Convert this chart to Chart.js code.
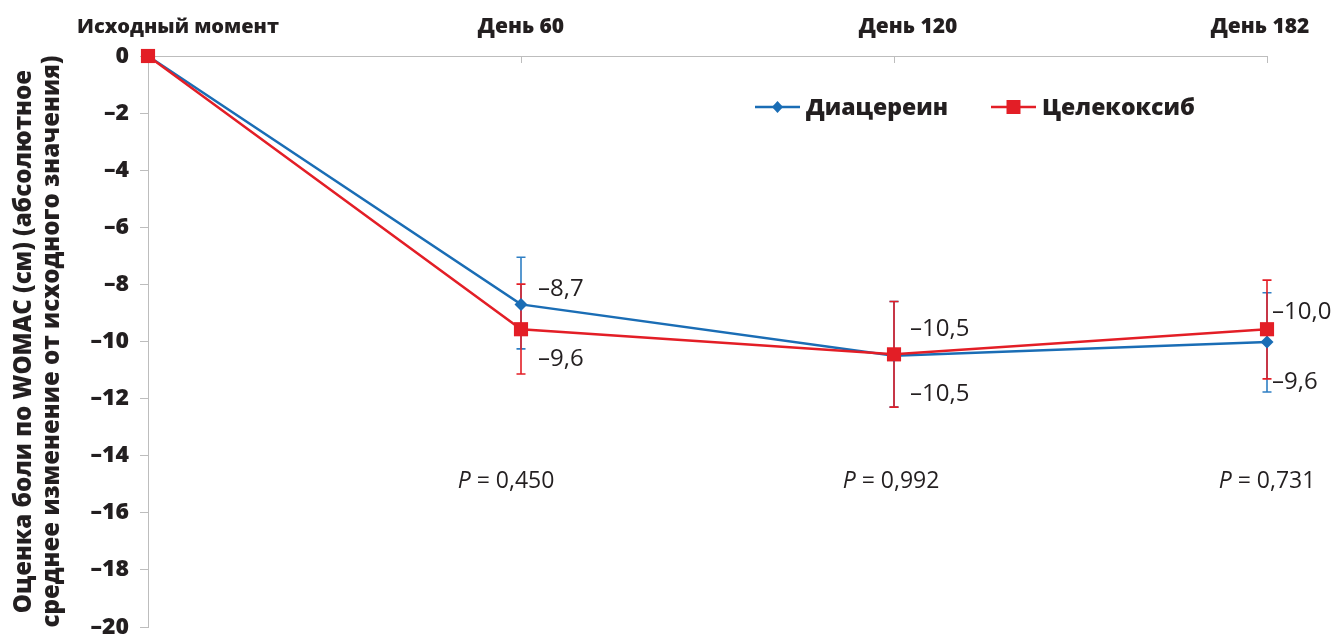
<!DOCTYPE html>
<html>
<head>
<meta charset="utf-8">
<script src="https://cdn.jsdelivr.net/npm/chart.js@4.4.1/dist/chart.umd.min.js"></script>
<style>
  html, body { margin: 0; padding: 0; background: #ffffff; }
  #wrap { width: 1333px; height: 635px; }
</style>
</head>
<body>
<div id="wrap"><canvas id="c" width="1333" height="635"></canvas></div>
<script>
// ---- data ----
const categories = ['Исходный момент', 'День 60', 'День 120', 'День 182'];
const diacerein = [0, -8.7, -10.5, -10.02];
const celecoxib = [0, -9.57, -10.45, -9.57];
const diaceriinErrLow  = [null, -10.26, -12.3, -11.77];
const diaceriinErrHigh = [null, -7.05, -8.6, -8.29];
const celecoxibErrLow  = [null, -11.14, -12.3, -11.31];
const celecoxibErrHigh = [null, -7.99, -8.6, -7.85];
const upperLabels = [null, '–8,7', '–10,5', '–10,0'];
const lowerLabels = [null, '–9,6', '–10,5', '–9,6'];
const pValues = [null, '0,450', '0,992', '0,731'];
const seriesNames = ['Диацереин', 'Целекоксиб'];
const yMin = -20, yMax = 0, yStep = 2;
const yTitle = ['Оценка боли по WOMAC (см) (абсолютное', 'среднее изменение от исходного значения)'];

const BLUE = '#1a6db5';
const RED = '#e31e26';
const TEXT = '#231f20';
const AXIS = '#bdbdbd';
const FONT = '"Open Sans", "Noto Sans", sans-serif';

function fmt(v) { return v < 0 ? '–' + Math.abs(v) : String(v); }

const errorBars = {
  id: 'errorBars',
  beforeDatasetsDraw(chart) {
    const {ctx, scales: {x, y}} = chart;
    const sets = [
      {lo: diaceriinErrLow, hi: diaceriinErrHigh, color: '#2f7fc4'},
      {lo: celecoxibErrLow, hi: celecoxibErrHigh, color: RED}
    ];
    ctx.save();
    ctx.lineWidth = 1.6;
    sets.forEach(s => {
      ctx.strokeStyle = s.color;
      s.lo.forEach((lo, i) => {
        if (lo === null) return;
        const px = x.getPixelForValue(i);
        const y1 = y.getPixelForValue(lo), y2 = y.getPixelForValue(s.hi[i]);
        ctx.beginPath();
        ctx.moveTo(px, y1); ctx.lineTo(px, y2);
        ctx.moveTo(px - 4.5, y1); ctx.lineTo(px + 4.5, y1);
        ctx.moveTo(px - 4.5, y2); ctx.lineTo(px + 4.5, y2);
        ctx.stroke();
      });
    });
    ctx.restore();
  }
};

const annotations = {
  id: 'annotations',
  afterDraw(chart) {
    const {ctx, scales: {x, y}, chartArea} = chart;
    ctx.save();
    // top category labels
    const topShift = [30, 0, 14, -7];
    ctx.fillStyle = TEXT;
    ctx.textAlign = 'center';
    ctx.textBaseline = 'alphabetic';
    categories.forEach((c, i) => {
      ctx.font = (i === 0 ? '800 20px ' : '800 21px ') + FONT;
      ctx.fillText(c, x.getPixelForValue(i) + topShift[i], 33);
    });
    // small downward ticks on top axis
    ctx.strokeStyle = AXIS;
    ctx.lineWidth = 1;
    categories.forEach((c, i) => {
      if (i === 0) return;
      const px = Math.round(x.getPixelForValue(i)) + 0.5;
      ctx.beginPath();
      ctx.moveTo(px, chartArea.top); ctx.lineTo(px, chartArea.top + 7);
      ctx.stroke();
    });
    // value labels
    const xOff = [0, 17, 16, 5];
    const upOff = [0, -15, -25, -17];
    const lowOff = [0, 30, 38, 40];
    ctx.font = '24px ' + FONT;
    ctx.textAlign = 'left';
    ctx.textBaseline = 'middle';
    for (let i = 1; i < categories.length; i++) {
      const px = x.getPixelForValue(i);
      const pa = y.getPixelForValue(diacerein[i]);
      const pb = y.getPixelForValue(celecoxib[i]);
      const top = Math.min(pa, pb), bot = Math.max(pa, pb);
      ctx.fillText(upperLabels[i], px + xOff[i], top + upOff[i]);
      ctx.fillText(lowerLabels[i], px + xOff[i], bot + lowOff[i]);
    }
    // P values
    const pShift = [0, -15, -3, 0];
    const py = y.getPixelForValue(-14.9);
    for (let i = 1; i < categories.length; i++) {
      if (!pValues[i]) continue;
      ctx.font = 'italic 23px ' + FONT;
      const wP = ctx.measureText('P').width;
      ctx.font = '23px ' + FONT;
      const rest = ' = ' + pValues[i];
      const wR = ctx.measureText(rest).width;
      const cx = x.getPixelForValue(i) + pShift[i];
      const start = cx - (wP + wR) / 2;
      ctx.textAlign = 'left';
      ctx.font = 'italic 23px ' + FONT;
      ctx.fillText('P', start, py);
      ctx.font = '23px ' + FONT;
      ctx.fillText(rest, start + wP, py);
    }
    // legend
    const leg = [
      {x: 755, color: BLUE, style: 'diamond', name: seriesNames[0]},
      {x: 991, color: RED, style: 'square', name: seriesNames[1]}
    ];
    const ly = 107;
    ctx.font = '800 23px ' + FONT;
    ctx.textBaseline = 'middle';
    leg.forEach(l => {
      ctx.strokeStyle = l.color;
      ctx.lineWidth = 2.5;
      ctx.beginPath();
      ctx.moveTo(l.x, ly); ctx.lineTo(l.x + 45, ly);
      ctx.stroke();
      ctx.fillStyle = l.color;
      const cx = l.x + 22.5;
      ctx.beginPath();
      if (l.style === 'diamond') {
        ctx.moveTo(cx, ly - 6); ctx.lineTo(cx + 5.5, ly); ctx.lineTo(cx, ly + 6); ctx.lineTo(cx - 5.5, ly);
        ctx.closePath();
      } else {
        ctx.rect(cx - 7, ly - 7, 14, 14);
      }
      ctx.fill();
      ctx.fillStyle = TEXT;
      ctx.fillText(l.name, l.x + 51, ly + 1);
    });
    ctx.restore();
  }
};

new Chart(document.getElementById('c'), {
  type: 'line',
  data: {
    labels: categories,
    datasets: [
      {
        label: seriesNames[0], data: diacerein,
        borderColor: BLUE, backgroundColor: BLUE, borderWidth: 2.5,
        pointStyle: 'rectRot', pointRadius: 6.5, pointBorderWidth: 0,
        tension: 0, order: 2, clip: false
      },
      {
        label: seriesNames[1], data: celecoxib,
        borderColor: RED, backgroundColor: RED, borderWidth: 2.5,
        pointStyle: 'rect', pointRadius: 10, pointBorderWidth: 0,
        tension: 0, order: 1, clip: false
      }
    ]
  },
  options: {
    responsive: false,
    animation: false,
    devicePixelRatio: 1,
    layout: { autoPadding: false, padding: { left: 0, right: 66, top: 0, bottom: 8 } },
    plugins: { legend: { display: false }, tooltip: { enabled: false } },
    scales: {
      x: {
        type: 'category', position: 'top', offset: false,
        grid: { drawOnChartArea: false, drawTicks: false },
        border: { display: true, color: AXIS, width: 1 },
        ticks: { display: false },
        afterFit(s) { s.height = 56; s.paddingLeft = 0; s.paddingRight = 0; }
      },
      y: {
        min: yMin, max: yMax,
        grid: { drawOnChartArea: false, drawTicks: true, tickLength: 8, color: AXIS },
        border: { display: true, color: AXIS, width: 1 },
        ticks: {
          stepSize: yStep, padding: 11, color: TEXT,
          font: { family: FONT, size: 23, weight: '800', lineHeight: '16px' },
          callback: v => fmt(v)
        },
        title: {
          display: true, text: yTitle, color: TEXT,
          font: { family: FONT, size: 24, weight: '800', lineHeight: '28px' },
          padding: { top: 10, bottom: 0 }
        },
        afterFit(s) { s.width = 148; s.paddingTop = 0; s.paddingBottom = 0; }
      }
    }
  },
  plugins: [errorBars, annotations]
});
</script>
</body>
</html>
